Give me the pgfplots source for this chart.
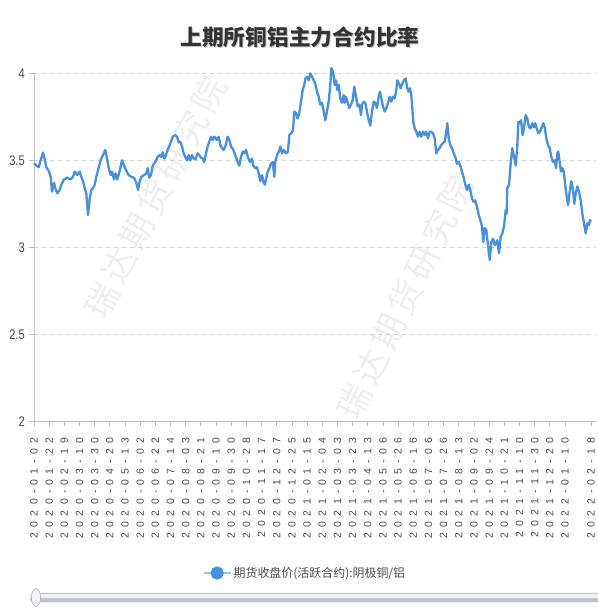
\documentclass[border=0pt]{standalone}
\usepackage{fontspec}
\usepackage{pgfplots}
\usepackage{pgfplotstable}
\pgfplotsset{compat=1.18}
\setmainfont{Liberation Sans}
\newfontfamily\cjk{Noto Sans CJK SC}
\newfontfamily\cjkwm[LetterSpace=14]{Noto Sans CJK SC}
\newfontfamily\xtickfont[LetterSpace=50]{Liberation Sans}
\newfontfamily\ytickfont[FakeStretch=0.8]{Liberation Sans}
\definecolor{lineblue}{RGB}{74,144,217}
\definecolor{gridgray}{RGB}{212,212,212}
\definecolor{axisgray}{RGB}{190,190,190}
\definecolor{labgray}{RGB}{75,75,75}
\definecolor{titlegray}{RGB}{51,51,51}
\definecolor{wmgray}{RGB}{238,238,238}
\definecolor{slidergray}{RGB}{190,195,208}

% px = horizontal position, v = ratio
\pgfplotstableread{
px v
34.0 3.483
36.3 3.47
38.7 3.46
40.7 3.50
43.0 3.545
44.7 3.506
46.3 3.46
48.7 3.44
50.7 3.405
52.0 3.32
54.0 3.37
55.3 3.34
57.3 3.31
59.7 3.33
61.3 3.36
64.0 3.39
67.3 3.40
70.7 3.39
73.0 3.405
74.7 3.435
77.3 3.415
79.7 3.435
81.3 3.405
83.0 3.38
84.7 3.34
86.3 3.31
88.0 3.186
89.7 3.28
91.3 3.33
93.0 3.34
94.7 3.36
96.3 3.405
98.7 3.46
101.3 3.51
103.0 3.53
105.3 3.56
107.3 3.50
108.7 3.455
110.7 3.415
112.0 3.435
114.0 3.39
115.3 3.425
117.3 3.39
119.7 3.44
122.0 3.50
124.0 3.47
126.3 3.44
128.7 3.415
131.3 3.405
134.0 3.40
136.3 3.37
138.0 3.33
139.7 3.38
141.3 3.405
144.0 3.415
146.3 3.425
147.7 3.455
149.3 3.40
151.0 3.415
152.7 3.47
155.3 3.49
157.7 3.52
159.3 3.53
161.0 3.52
162.7 3.546
164.3 3.51
166.0 3.53
167.7 3.56
169.3 3.58
171.0 3.607
172.7 3.636
175.3 3.645
177.0 3.636
178.7 3.603
180.3 3.607
182.0 3.58
183.7 3.54
185.3 3.52
187.0 3.50
188.7 3.53
190.3 3.50
192.0 3.53
193.7 3.51
195.3 3.505
197.7 3.54
199.3 3.53
201.0 3.515
202.7 3.51
204.3 3.49
206.0 3.54
207.7 3.58
209.3 3.607
211.0 3.636
212.7 3.617
214.3 3.636
216.7 3.617
218.7 3.636
220.3 3.588
222.0 3.57
223.7 3.56
225.3 3.58
227.7 3.636
229.3 3.617
231.0 3.58
233.3 3.56
235.3 3.53
237.7 3.49
239.3 3.47
241.0 3.52
242.7 3.55
244.3 3.54
246.0 3.56
247.7 3.52
250.0 3.49
252.0 3.51
253.3 3.47
255.3 3.455
257.0 3.46
258.7 3.425
260.3 3.38
262.0 3.415
263.7 3.37
265.0 3.36
266.0 3.39
267.7 3.435
269.3 3.455
271.0 3.48
272.7 3.49
274.3 3.405
275.3 3.49
277.0 3.53
278.7 3.546
280.3 3.58
282.0 3.54
283.7 3.56
286.0 3.54
288.0 3.55
289.3 3.645
291.3 3.655
293.0 3.674
294.3 3.78
296.0 3.77
297.7 3.74
299.3 3.77
301.0 3.837
302.7 3.904
304.3 3.933
305.3 3.97
307.0 3.98
308.7 3.96
310.3 4.00
312.0 3.98
313.7 3.96
315.3 3.94
317.0 3.894
318.7 3.866
320.3 3.82
322.0 3.83
323.7 3.78
325.3 3.73
327.0 3.78
328.7 3.837
330.3 3.933
331.3 4.03
333.0 4.01
334.7 3.933
336.0 3.96
337.3 3.904
338.7 3.933
340.3 3.856
342.0 3.83
343.7 3.875
344.7 3.83
346.0 3.866
347.7 3.83
349.3 3.80
351.0 3.82
352.7 3.847
354.3 3.923
356.0 3.866
357.7 3.81
359.3 3.82
361.0 3.76
362.0 3.82
363.7 3.837
365.3 3.83
367.0 3.78
368.7 3.73
370.3 3.70
372.0 3.78
373.7 3.837
375.3 3.83
377.0 3.80
378.7 3.866
380.0 3.894
381.3 3.856
383.0 3.81
384.7 3.78
386.3 3.80
388.0 3.83
389.7 3.866
391.3 3.837
393.0 3.866
394.7 3.856
396.3 3.904
397.3 3.96
399.0 3.94
400.7 3.914
402.3 3.94
404.0 3.96
405.7 3.97
407.3 3.914
408.7 3.894
410.0 3.914
411.3 3.875
412.3 3.80
413.3 3.72
414.7 3.684
416.3 3.664
418.0 3.636
419.7 3.664
421.3 3.636
423.0 3.664
424.7 3.645
426.3 3.664
428.0 3.626
429.7 3.664
431.3 3.664
433.0 3.655
434.7 3.626
436.3 3.54
438.0 3.56
439.7 3.57
441.3 3.588
443.0 3.598
444.7 3.607
446.3 3.664
447.3 3.713
448.7 3.626
450.3 3.588
452.0 3.57
453.7 3.54
455.3 3.52
457.0 3.48
458.7 3.49
460.3 3.47
462.0 3.435
463.7 3.40
465.3 3.36
467.0 3.33
468.7 3.36
470.3 3.33
472.0 3.28
473.7 3.26
475.3 3.27
477.0 3.233
478.7 3.186
480.3 3.157
482.0 3.12
483.3 3.03
484.7 3.11
486.3 3.10
488.0 3.013
489.7 2.927
491.3 3.03
493.0 3.05
494.7 3.013
495.7 3.02
497.3 3.04
499.0 2.966
500.7 3.06
502.3 3.08
504.0 3.12
505.7 3.214
506.7 3.195
507.3 3.34
509.0 3.36
510.7 3.483
512.3 3.57
514.0 3.52
515.7 3.47
517.3 3.58
518.3 3.72
519.7 3.713
521.0 3.73
522.7 3.645
524.0 3.69
525.7 3.76
527.3 3.74
529.0 3.69
530.7 3.684
532.3 3.713
534.0 3.69
535.3 3.713
536.7 3.684
538.3 3.655
540.0 3.664
541.7 3.69
543.3 3.713
544.7 3.69
546.3 3.626
548.0 3.588
549.7 3.57
551.3 3.52
553.0 3.49
554.7 3.50
556.0 3.455
557.3 3.54
558.3 3.55
559.7 3.49
561.0 3.435
562.3 3.455
563.7 3.44
565.0 3.37
566.7 3.29
568.0 3.243
569.7 3.32
571.3 3.38
573.0 3.33
574.3 3.25
575.7 3.31
577.3 3.35
579.0 3.32
580.7 3.27
582.3 3.195
584.0 3.138
585.7 3.08
587.3 3.138
589.0 3.128
590.0 3.157
591.0 3.147
}\ratio

\begin{document}
\begin{tikzpicture}
\useasboundingbox (-34bp,-188.7bp) rectangle (564bp,421.3bp);
% watermarks
\node[rotate=62.5, text=wmgray, font=\cjkwm\fontsize{34}{34}\selectfont] at (121bp,224bp) {瑞达期货研究院};
\node[rotate=64, text=wmgray, font=\cjkwm\fontsize{34}{34}\selectfont] at (371bp,124bp) {瑞达期货研究院};
\begin{axis}[
  scale only axis,
  width=562bp, height=348bp,
  xmin=0, xmax=518.6,
  ymin=2, ymax=4,
  clip=false,
  axis x line*=bottom, axis y line*=left,
  axis line style={-, draw=axisgray, line width=0.8bp},
  ymajorgrids,
  grid style={draw=gridgray, line width=0.8bp, dash pattern=on 4bp off 4bp},
  ytick={2,2.5,3,3.5,4},
  xtick={0,14,28,42,56,70,84,98,112,126,140,154,168,182,196,210,224,238,252,266,280,294,308,322,336,350,364,378,392,406,420,434,448,462,476,490,514},
  xticklabels={2020-01-02,2020-01-22,2020-02-19,2020-03-10,2020-03-30,2020-04-20,2020-05-13,2020-06-02,2020-06-22,2020-07-14,2020-08-03,2020-08-21,2020-09-10,2020-09-30,2020-10-28,2020-11-17,2020-12-07,2020-12-25,2021-01-15,2021-02-04,2021-03-03,2021-03-23,2021-04-13,2021-05-06,2021-05-26,2021-06-16,2021-07-06,2021-07-26,2021-08-13,2021-09-02,2021-09-24,2021-10-21,2021-11-10,2021-11-30,2021-12-20,2022-01-10,2022-02-18},
  tick align=outside,
  major tick length=5bp,
  tick style={draw=axisgray, line width=0.8bp},
  /pgf/number format/assume math mode=true,
  xticklabel style={rotate=90, anchor=east, inner sep=0pt, font=\xtickfont\fontsize{10.5}{11}\selectfont, text=labgray},
  yticklabel style={anchor=east, inner sep=0pt, font=\ytickfont\fontsize{14}{14}\selectfont, text=labgray},
  xticklabel shift=11bp,
  yticklabel shift=4bp,
  legend style={at={(0.482,-0.436)}, anchor=center, draw=none, fill=none,
    font=\cjk\fontsize{12}{14}\selectfont, text=labgray},
  legend image code/.code={
    \draw[line width=2bp, draw=lineblue!55] (0bp,0bp) -- (27bp,0bp);
    \fill[lineblue] (13.5bp,0bp) circle (5.5bp);
  },
]
\addplot[lineblue, line width=2.3bp, line join=round, no markers]
  table[x expr={(\thisrow{px}-34)/1.0837}, y=v] {\ratio};
\addlegendentry{期货收盘价(活跃合约):阴极铜/铝}
\end{axis}
% title
\node[text=gray!45, font=\cjk\bfseries\fontsize{21.8}{22}\selectfont] at (267bp,383.3bp) {上期所铜铝主力合约比率};
\node[text=titlegray, font=\cjk\bfseries\fontsize{21.8}{22}\selectfont] at (266bp,384.3bp) {上期所铜铝主力合约比率};
% data zoom slider (decoration)
\fill[slidergray, rounded corners=3bp] (-4bp,-181bp) rectangle (566bp,-171.5bp);
\fill[white!80!slidergray] (-4bp,-176.5bp) rectangle (566bp,-173bp);
\filldraw[fill=white!80!slidergray, draw=slidergray!80!black] (2bp,-176.2bp) ellipse (4.5bp and 9bp);
\end{tikzpicture}
\end{document}
